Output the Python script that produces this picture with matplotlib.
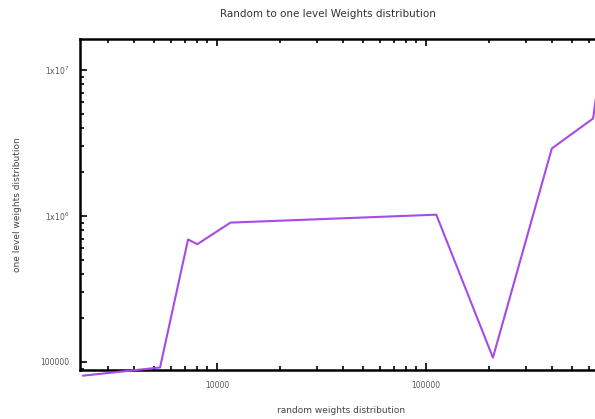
import math
import matplotlib
matplotlib.use("Agg")
import matplotlib.pyplot as plt
from matplotlib.ticker import FixedLocator, FuncFormatter, LogLocator, NullFormatter

title = "Random to one level Weights distribution"
xlabel = "random weights distribution"
ylabel = "one level weights distribution"

x_vals = [2290, 5340, 7270, 8050, 11600, 112000, 209000, 400000, 630000, 660000]
y_vals = [80500, 91600, 690000, 640000, 900000, 1020000, 107000, 2900000, 4650000, 7500000]

x_major = [10000, 100000]
y_major = [100000, 1000000, 10000000]

W, H = 595, 419
fig = plt.figure(figsize=(W / 100, H / 100), dpi=100)
ax = fig.add_axes([80 / W, (H - 370) / H, (602 - 80) / W, (370 - 39) / H])

ax.plot(x_vals, y_vals, color="#a64ae8", lw=1.5, clip_on=False, zorder=3)

ax.set_xscale("log")
ax.set_yscale("log")
ax.set_xlim(2211, 695000)
ax.set_ylim(88000, 1.63e7)

def yfmt(v, pos):
    if abs(v - 1e5) < 1:
        return "100000"
    e = int(round(math.log10(v)))
    return r"1x10$^{%d}$" % e

def xfmt(v, pos):
    return "%d" % int(round(v))

ax.xaxis.set_major_locator(FixedLocator(x_major))
ax.yaxis.set_major_locator(FixedLocator(y_major))
ax.xaxis.set_major_formatter(FuncFormatter(xfmt))
ax.yaxis.set_major_formatter(FuncFormatter(yfmt))
ax.xaxis.set_minor_locator(LogLocator(base=10, subs=range(2, 10)))
ax.yaxis.set_minor_locator(LogLocator(base=10, subs=range(2, 10)))
ax.xaxis.set_minor_formatter(NullFormatter())
ax.yaxis.set_minor_formatter(NullFormatter())

ax.tick_params(which="both", direction="in", top=True, right=False,
               labelsize=5.5, labelcolor="#555555", width=1.2)
ax.tick_params(which="major", length=5, pad=8)
ax.tick_params(which="minor", length=3)

for s in ax.spines.values():
    s.set_linewidth(1.8)

fig.text(328 / W, 1 - 14 / H, title, ha="center", va="center", fontsize=7.5, color="#333333")
fig.text(341 / W, 1 - 410 / H, xlabel, ha="center", va="center", fontsize=6.5, color="#444444")
fig.text(18 / W, 1 - 205 / H, ylabel, ha="center", va="center", rotation=90, fontsize=6.5, color="#444444")

fig.savefig("out.png", dpi=100)
